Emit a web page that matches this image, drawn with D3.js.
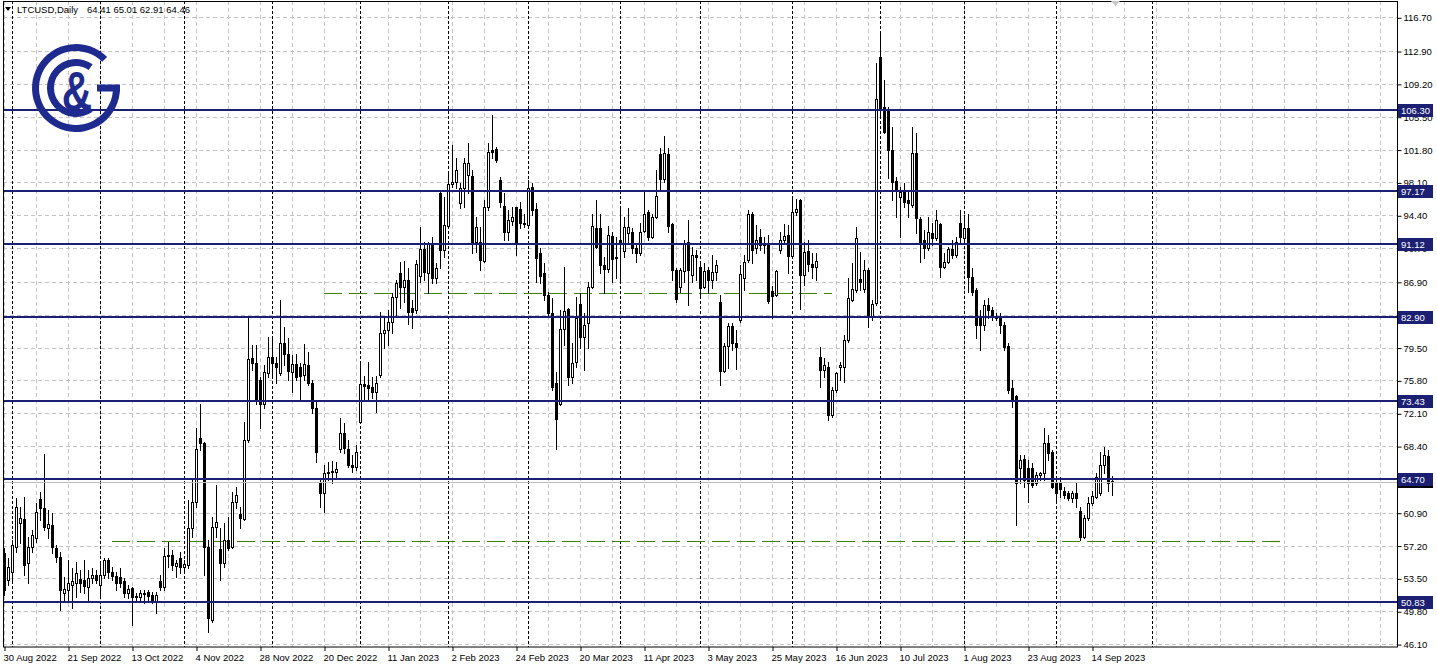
<!DOCTYPE html>
<html><head><meta charset="utf-8">
<script src="https://cdn.jsdelivr.net/npm/d3@7"></script>
<style>
body{margin:0;background:#fff;}
svg{display:block;}
text{font-family:"Liberation Sans",Arial,sans-serif;}
</style>
</head><body>
<svg id="c" width="1437" height="668"></svg>
<script>
// ---------------- DATA ----------------
const symbolLabel = "LTCUSD,Daily";
const lastBarOHLC = [64.41, 65.01, 62.91, 64.46];

// Daily candles (weekday bars from 30 Aug 2022 to 21 Sep 2023)
const opens = [
56.4,53.3,54.2,57.0,59.7,60.2,55.2,57.0,58.1,62.4,
61.4,59.2,59.5,56.9,55.9,51.9,52.2,52.8,53.0,53.4,
53.3,52.5,53.5,53.9,52.8,53.9,55.6,54.2,53.8,53.7,
53.2,51.9,52.4,51.5,51.4,51.9,52.0,51.6,50.9,53.2,
52.5,56.0,56.1,54.9,55.8,54.8,55.0,59.2,62.1,69.3,
68.7,57.0,48.8,59.3,56.8,55.2,57.8,57.0,62.1,60.8,
60.2,69.1,78.3,77.8,75.8,73.2,76.6,78.4,77.8,76.6,
80.0,78.8,76.7,77.6,77.3,76.4,77.5,75.5,72.7,64.3,
63.1,65.4,65.5,65.5,68.1,69.9,68.1,66.3,66.0,71.1,
75.4,75.3,75.1,74.5,76.4,81.1,81.5,82.4,85.2,87.9,
86.3,87.1,84.0,83.7,87.6,90.6,87.9,91.3,87.3,96.9,
90.5,93.2,97.9,98.1,95.8,97.5,98.9,98.8,91.4,91.4,
89.2,95.3,101.8,101.9,98.4,95.4,92.5,93.8,95.3,95.1,
93.5,93.3,97.6,95.1,90.2,87.9,85.4,83.4,75.5,73.1,
81.6,83.8,76.2,77.9,84.4,80.7,82.3,86.3,93.0,93.0,
88.8,88.3,92.1,89.7,91.6,90.4,92.4,92.5,90.7,90.2,
92.6,94.8,92.0,94.2,101.3,98.5,101.3,93.4,88.2,86.3,
88.1,91.4,87.7,89.9,88.6,86.3,88.2,87.1,88.0,84.6,
76.9,79.7,81.9,80.0,82.6,87.3,89.4,94.5,90.7,92.0,
91.1,91.1,85.9,85.4,90.5,91.6,92.2,89.8,94.8,96.1,
87.7,90.4,88.9,88.6,78.4,77.0,77.3,71.9,74.7,77.3,
77.3,80.3,84.85,86.0,87.2,86.1,88.2,82.9,84.5,112.2,
106.6,106.3,101.8,98.3,96.5,97.2,96.1,95.6,101.4,94.0,
91.6,90.7,92.4,91.8,93.4,88.6,89.1,90.6,89.9,93.5,
91.8,93.0,87.4,86.0,82.9,82.0,84.3,83.7,82.9,83.0,
82.0,79.7,74.9,74.0,65.9,66.9,65.9,65.9,64.2,65.1,
65.4,68.7,67.7,64.3,64.2,63.4,63.1,62.6,63.1,61.1,
58.2,60.3,62.0,62.7,63.1,66.3,67.3,64.41];
const highs = [
56.9,55.8,57.8,62.6,61.5,62.7,58.2,59.0,62.0,63.2,
67.5,61.2,60.9,57.3,56.5,53.7,55.6,54.7,55.3,54.4,
55.6,54.4,54.7,54.4,55.2,55.8,55.8,54.8,54.2,54.7,
53.5,52.8,52.5,51.9,52.2,52.2,52.2,52.0,52.0,53.9,
56.9,57.6,56.7,55.6,56.5,55.6,62.3,64.6,70.4,73.2,
68.9,57.8,60.4,64.0,59.2,59.7,60.4,63.2,63.8,61.5,
71.1,82.9,79.8,79.8,76.2,77.5,80.7,80.6,78.4,84.85,
81.8,80.6,78.7,78.8,77.8,79.9,79.0,75.8,73.6,64.6,
66.3,66.6,66.7,66.6,71.6,71.0,69.1,67.4,68.5,77.9,
76.3,77.9,76.2,76.3,83.5,82.9,83.7,85.6,87.1,89.1,
89.2,88.5,84.85,89.4,93.1,91.4,91.4,92.0,89.0,97.0,
96.5,99.3,102.3,100.8,98.0,100.8,102.5,99.5,94.2,93.1,
96.1,102.5,105.7,102.1,98.7,96.9,95.0,95.3,95.3,95.9,
94.6,98.4,98.0,95.8,90.7,89.0,85.8,85.1,76.7,83.7,
88.6,84.0,80.0,85.2,85.6,83.4,86.9,94.6,96.1,94.6,
89.7,93.2,92.5,92.0,95.2,94.2,95.2,93.0,91.3,93.5,
97.0,95.0,94.6,99.5,102.0,103.3,102.0,93.5,88.5,88.5,
91.6,93.9,90.8,90.5,89.0,89.0,88.6,89.9,89.4,85.4,
80.0,82.3,82.3,81.5,88.8,89.9,95.0,94.8,93.3,92.9,
92.0,92.2,86.4,88.2,92.5,93.4,93.3,96.2,96.2,96.2,
91.4,91.6,90.2,90.2,79.6,78.3,77.9,75.1,76.7,77.9,
80.9,87.3,89.0,93.1,90.3,89.4,88.5,84.85,111.6,115.0,
109.6,106.6,104.3,98.7,97.6,98.0,97.0,104.3,103.7,94.2,
92.7,94.2,93.5,95.0,93.5,90.2,90.8,91.6,92.0,95.0,
94.4,94.6,88.5,86.2,83.7,84.85,85.1,84.1,83.4,83.4,
82.4,80.0,75.8,74.2,67.4,67.4,66.8,66.5,65.5,65.5,
70.4,69.6,68.0,64.9,64.9,63.8,63.4,63.4,64.3,61.5,
60.6,62.7,63.4,65.4,67.7,68.3,68.0,65.01];
const lows = [
51.6,52.8,53.3,56.5,57.5,53.9,53.0,56.5,57.6,60.1,
59.0,58.1,56.4,55.3,49.9,51.1,50.8,50.2,51.4,52.0,
51.9,50.8,53.0,53.0,51.4,53.5,53.5,53.3,52.2,52.5,
51.4,51.3,48.2,51.1,50.8,50.7,51.1,50.7,49.6,52.2,
52.2,54.8,54.4,53.7,54.1,54.2,54.7,58.2,61.5,68.0,
53.9,47.5,48.6,58.2,53.3,54.8,56.7,56.9,61.4,59.2,
60.1,68.9,77.0,73.2,70.4,72.7,76.2,76.2,75.5,76.4,
77.5,75.8,74.5,75.8,73.6,75.8,75.3,72.1,66.6,61.5,
61.0,64.6,64.2,64.9,67.7,67.6,66.0,65.5,65.7,71.0,
73.7,73.6,73.8,72.2,76.2,79.4,79.8,81.1,82.9,84.0,
84.6,82.2,81.7,83.4,86.9,87.1,85.6,86.8,86.8,88.5,
89.7,93.0,97.6,97.5,95.2,95.3,96.9,90.2,90.3,88.2,
89.1,95.0,100.8,100.4,95.3,91.6,91.6,93.3,89.9,93.0,
93.1,93.2,94.4,86.9,86.8,84.85,82.9,74.7,68.1,73.0,
79.8,75.3,75.5,77.3,79.4,77.0,79.4,86.2,90.7,87.9,
85.6,88.0,86.9,87.3,86.9,89.7,91.3,90.2,89.1,89.9,
92.5,91.6,91.8,94.1,97.2,98.1,92.5,87.1,84.6,85.8,
86.9,84.3,86.9,87.1,85.2,86.2,85.6,86.2,87.1,75.3,
76.7,77.2,79.2,77.1,82.4,86.0,89.1,89.0,90.2,90.5,
90.2,84.5,82.8,85.3,90.2,91.2,87.9,89.6,94.4,83.8,
86.5,88.1,87.3,87.1,75.1,76.2,71.3,71.7,74.5,75.8,
75.6,80.1,84.8,85.8,86.0,85.8,81.8,82.6,84.3,105.5,
103.7,98.6,96.1,94.2,92.0,95.3,94.2,95.3,92.4,89.1,
89.6,90.5,91.1,91.6,87.4,88.5,89.0,89.6,89.7,91.3,
91.4,85.8,85.4,80.6,79.2,81.5,82.8,82.6,82.6,81.1,
79.2,74.4,72.8,59.5,64.2,63.8,62.1,63.8,64.0,64.6,
64.6,66.8,63.7,62.0,62.7,62.6,62.3,62.1,61.5,57.8,
58.1,60.1,61.8,62.6,62.9,65.4,63.4,62.91];
const closes = [
52.2,54.8,57.3,61.5,60.3,55.0,57.0,58.4,61.0,61.4,
59.3,59.6,57.0,55.9,52.2,52.3,53.0,53.2,54.1,53.0,
52.6,53.5,53.9,53.3,53.9,55.6,54.2,53.8,53.0,53.0,
51.9,52.3,51.4,51.4,51.9,51.7,51.5,50.8,51.6,52.5,
56.0,56.1,55.0,55.2,54.8,55.1,59.2,62.1,68.1,68.7,
57.0,49.0,59.3,59.8,55.2,57.8,56.9,62.1,62.9,60.3,
69.1,78.2,77.8,73.6,73.2,76.7,78.4,77.8,77.3,80.0,
78.8,76.9,77.6,76.2,76.3,77.6,75.5,72.7,67.7,63.1,
65.4,65.5,65.6,65.8,69.9,68.2,66.3,66.0,67.7,75.4,
75.2,74.9,74.5,75.5,81.1,81.5,82.4,85.2,86.8,86.3,
87.1,83.5,83.5,88.9,90.6,88.0,91.3,87.3,88.5,90.5,
93.3,97.9,98.1,99.5,97.5,100.3,100.3,91.4,93.1,89.4,
95.3,101.5,101.5,100.6,95.9,92.5,93.9,94.2,91.3,93.5,
93.4,97.5,95.0,89.6,87.6,85.4,83.4,75.1,71.4,81.6,
83.6,76.2,77.8,82.8,80.7,82.0,86.3,93.2,90.8,88.8,
88.3,92.2,89.5,89.6,91.4,93.1,93.1,90.7,90.2,92.5,
94.6,92.0,94.2,96.6,98.5,101.4,93.2,88.2,85.0,88.2,
91.3,88.2,89.9,89.7,86.2,88.1,87.1,88.0,88.8,76.9,
79.7,81.9,80.0,79.6,87.8,89.1,94.5,90.5,91.6,91.1,
91.2,84.7,85.3,88.1,91.6,92.1,89.8,94.8,95.1,87.7,
90.3,88.9,88.6,89.2,77.0,77.5,71.9,74.7,76.6,77.5,
80.3,85.1,86.1,91.8,86.9,88.2,82.9,84.4,107.5,106.5,
103.8,101.8,98.1,97.2,97.0,95.9,95.8,101.4,94.1,91.3,
90.7,92.5,91.8,93.9,88.6,89.1,90.6,89.9,91.4,92.0,
93.0,87.4,85.8,82.0,82.0,84.3,83.7,82.9,82.8,82.0,
79.6,74.7,73.6,64.3,66.8,64.6,64.2,64.0,65.1,65.4,
68.7,67.6,63.8,63.1,63.6,62.9,62.6,63.1,62.6,58.2,
60.3,62.0,62.8,64.9,66.3,67.4,64.3,64.46];

// time axis labels (one every 16 bars)
const timeLabels = ["30 Aug 2022","21 Sep 2022","13 Oct 2022","4 Nov 2022","28 Nov 2022","20 Dec 2022",
  "11 Jan 2023","2 Feb 2023","24 Feb 2023","20 Mar 2023","11 Apr 2023","3 May 2023","25 May 2023",
  "16 Jun 2023","10 Jul 2023","1 Aug 2023","23 Aug 2023","14 Sep 2023"];
// bar index of the first bar of each month (period separators)
const monthStartBars = [2,24,45,67,89,111,131,154,174,197,219,240,263,287];
// price scale ticks
const priceTicks = [116.70,112.90,109.20,105.50,101.80,98.10,94.40,90.70,86.90,83.20,79.50,75.80,
  72.10,68.40,64.70,60.90,57.20,53.50,49.80,46.10];
// horizontal support / resistance levels
const levels = [106.30, 97.17, 91.12, 82.90, 73.43, 64.70, 50.83];
// dashed green levels: price, first bar, last bar
const greenPrices = [85.65, 57.70];
const greenFromBar = [80, 27];
const greenToBar = [207, 319];
const bidPrice = 64.46;

// ---------------- DRAW ----------------
const W = 1437, H = 668;
const plot = {left: 3, right: 1397, top: 1, bottom: 647};
const navy = "#1b2072";
const gridCol = "#c4c4c4";

const svg = d3.select("#c");
svg.append("rect").attr("width", W).attr("height", H).attr("fill", "#fff");

const x = d3.scaleLinear().domain([0, 277]).range([4, 1112]);
const y = d3.scaleLinear().domain([46.10, 116.70]).range([644.1, 17.3]);
const px = v => Math.round(x(v));
const py = v => Math.round(y(v));

// grid
const gridBars = d3.range(0, 350, 8).filter(i => x(i) <= plot.right);
const grid = svg.append("g");
grid.selectAll("line.v").data(gridBars).join("line").attr("class", "v")
  .attr("x1", d => px(d) + 0.5).attr("x2", d => px(d) + 0.5)
  .attr("y1", plot.top).attr("y2", plot.bottom)
  .attr("stroke", gridCol).attr("stroke-dasharray", "4,3");
grid.selectAll("line.h").data(priceTicks).join("line").attr("class", "h")
  .attr("x1", plot.left).attr("x2", plot.right)
  .attr("y1", d => py(d) + 0.5).attr("y2", d => py(d) + 0.5)
  .attr("stroke", gridCol).attr("stroke-dasharray", "4,3");

// month separators
svg.append("g").selectAll("line").data(monthStartBars).join("line")
  .attr("x1", d => px(d) + 0.5).attr("x2", d => px(d) + 0.5)
  .attr("y1", plot.top).attr("y2", plot.bottom)
  .attr("stroke", "#000").attr("stroke-dasharray", "3,2");

// green dashed levels
svg.append("g").selectAll("line").data(greenPrices).join("line")
  .attr("x1", (d, i) => px(greenFromBar[i])).attr("x2", (d, i) => px(greenToBar[i]))
  .attr("y1", d => py(d) + 0.5).attr("y2", d => py(d) + 0.5)
  .attr("stroke", "#3f8000").attr("stroke-width", 1.2).attr("stroke-dasharray", "18,7");

// candles
const candles = opens.map((o, i) => ({
  i, o, c: closes[i],
  h: Math.max(highs[i], o, closes[i]),
  l: Math.min(lows[i], o, closes[i])
}));
const cg = svg.append("g");
candles.forEach(d => {
  const cx = px(d.i);
  cg.append("line").attr("x1", cx + 0.5).attr("x2", cx + 0.5)
    .attr("y1", py(d.h)).attr("y2", py(d.l) + 1)
    .attr("stroke", "#000").attr("stroke-width", 1);
  const t = py(Math.max(d.o, d.c)), b = py(Math.min(d.o, d.c));
  if (d.c < d.o) {
    cg.append("rect").attr("x", cx - 1).attr("y", t).attr("width", 3)
      .attr("height", Math.max(1, b - t + 1)).attr("fill", "#000");
  } else if (b - t >= 2) {
    cg.append("rect").attr("x", cx - 0.5).attr("y", t + 0.5).attr("width", 2)
      .attr("height", b - t).attr("fill", "#fff").attr("stroke", "#000").attr("stroke-width", 1);
  } else {
    cg.append("rect").attr("x", cx - 1).attr("y", t).attr("width", 3)
      .attr("height", Math.max(1, b - t + 1)).attr("fill", "#000");
  }
});

// bid line
svg.append("line").attr("x1", plot.left).attr("x2", plot.right)
  .attr("y1", py(bidPrice) + 1.5).attr("y2", py(bidPrice) + 1.5)
  .attr("stroke", "#bdbdbd").attr("stroke-width", 1);

// navy levels
svg.append("g").selectAll("line").data(levels).join("line")
  .attr("x1", plot.left).attr("x2", plot.right)
  .attr("y1", d => py(d)).attr("y2", d => py(d))
  .attr("stroke", navy).attr("stroke-width", 2);

// frame
svg.append("rect").attr("x", plot.left + 0.5).attr("y", plot.top + 0.5)
  .attr("width", plot.right - plot.left).attr("height", plot.bottom - plot.top - 0.5)
  .attr("fill", "none").attr("stroke", "#000").attr("stroke-width", 1);

// price axis
const yAxis = d3.axisRight(y).tickValues(priceTicks).tickFormat(d3.format(".2f")).tickSize(4).tickPadding(2);
const ya = svg.append("g").attr("transform", `translate(${plot.right + 0.5},0.5)`).call(yAxis);
ya.select(".domain").remove();
ya.selectAll("line").attr("stroke", "#000");
ya.selectAll("text").attr("font-size", "9.5px").attr("fill", "#000")
  .attr("font-family", "Liberation Sans, Arial, sans-serif");

// time axis
const labelBars = timeLabels.map((t, k) => k * 16);
const xAxis = d3.axisBottom(x).tickValues(labelBars).tickFormat((d, k) => timeLabels[k]).tickSize(4).tickPadding(3);
const xa = svg.append("g").attr("transform", `translate(0.5,${plot.bottom})`).call(xAxis);
xa.select(".domain").remove();
xa.selectAll("line").attr("stroke", "#000");
xa.selectAll("text").attr("font-size", "9.5px").attr("fill", "#000")
  .attr("text-anchor", "start").attr("dx", "-1.5")
  .attr("font-family", "Liberation Sans, Arial, sans-serif");

// bid label (black) then level labels (navy)
function priceBox(v, fill) {
  const cy = y(v);
  svg.append("rect").attr("x", plot.right + 1).attr("y", Math.round(cy) - 6)
    .attr("width", 35).attr("height", 13).attr("fill", fill);
  svg.append("text").attr("x", plot.right + 4).attr("y", Math.round(cy) + 0.5)
    .attr("dy", "0.35em").attr("font-size", "9.5px").attr("fill", "#fff")
    .text(d3.format(".2f")(v));
}
priceBox(bidPrice, "#000");
levels.forEach(v => priceBox(v, navy));

// title
svg.append("path").attr("d", "M5,7 L11,7 L8,11 Z").attr("fill", "#000");
svg.append("text").attr("x", 17).attr("y", 13).attr("font-size", "9.5px").attr("fill", "#000").text(symbolLabel);
svg.append("text").attr("x", 87).attr("y", 13).attr("font-size", "9.5px").attr("fill", "#000")
  .text(lastBarOHLC.map(d3.format(".2f")).join(" "));

// chart shift marker
svg.append("path").attr("d", "M1111,1 L1120,1 L1115.5,6 Z").attr("fill", "#c8c8c8");

// logo
const logo = svg.append("g").attr("transform", "translate(76,88)").attr("fill", "#1f2a8f");
const deg = Math.PI / 180;
logo.append("path").attr("d", d3.arc()({innerRadius: 37, outerRadius: 44, startAngle: 90 * deg, endAngle: 405 * deg}));
logo.append("rect").attr("x", 21).attr("y", -3.5).attr("width", 23).attr("height", 7);
logo.append("path").attr("d", d3.arc()({innerRadius: 22, outerRadius: 29, startAngle: 145 * deg, endAngle: 395 * deg}));
logo.append("text").attr("transform", "translate(1,22) scale(1,1.3)")
  .attr("text-anchor", "middle").attr("font-size", "42px").attr("font-weight", "bold")
  .attr("font-family", "Liberation Sans, Arial, sans-serif").text("&");
</script>
</body></html>
